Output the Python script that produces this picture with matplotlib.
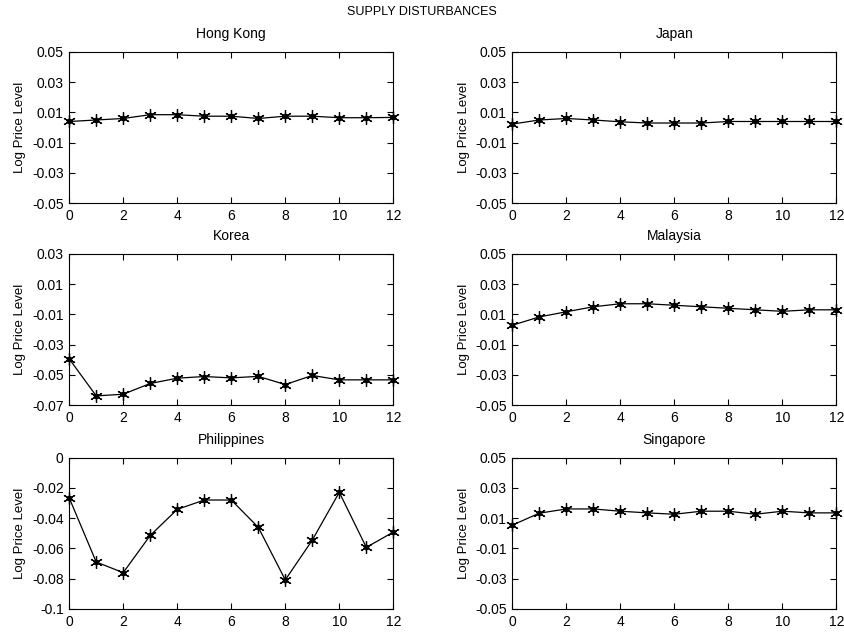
import matplotlib
matplotlib.use("Agg")
import matplotlib.pyplot as plt

plt.rcParams["font.family"] = ["Liberation Sans", "DejaVu Sans"]
plt.rcParams["font.size"] = 9.5

# horizon (periods)
horizon = list(range(13))

hong_kong = [0.004, 0.005, 0.006, 0.0085, 0.0085, 0.0075, 0.0075, 0.006, 0.0075, 0.0075, 0.0065, 0.0065, 0.0067]
japan = [0.0023, 0.005, 0.006, 0.005, 0.0038, 0.003, 0.003, 0.003, 0.004, 0.004, 0.004, 0.004, 0.004]
korea = [-0.0394, -0.0639, -0.0628, -0.0557, -0.0522, -0.0511, -0.052, -0.051, -0.0564, -0.0504, -0.0533, -0.0533, -0.0533]
malaysia = [0.0028, 0.0083, 0.0117, 0.015, 0.017, 0.017, 0.016, 0.015, 0.014, 0.013, 0.012, 0.013, 0.013]
philippines = [-0.0266, -0.069, -0.076, -0.0514, -0.0342, -0.028, -0.028, -0.046, -0.0808, -0.0545, -0.0229, -0.0593, -0.0492]
singapore = [0.0054, 0.0133, 0.0161, 0.0161, 0.0146, 0.0135, 0.0126, 0.0146, 0.0146, 0.0126, 0.0146, 0.0135, 0.0135]

std_ticks = [-0.05, -0.03, -0.01, 0.01, 0.03, 0.05]
std_labels = ["-0.05", "-0.03", "-0.01", "0.01", "0.03", "0.05"]
korea_ticks = [-0.07, -0.05, -0.03, -0.01, 0.01, 0.03]
korea_labels = ["-0.07", "-0.05", "-0.03", "-0.01", "0.01", "0.03"]
phil_ticks = [-0.1, -0.08, -0.06, -0.04, -0.02, 0]
phil_labels = ["-0.1", "-0.08", "-0.06", "-0.04", "-0.02", "0"]

panels = [
    ("Hong Kong", hong_kong, std_ticks, std_labels),
    ("Japan", japan, std_ticks, std_labels),
    ("Korea", korea, korea_ticks, korea_labels),
    ("Malaysia", malaysia, std_ticks, std_labels),
    ("Philippines", philippines, phil_ticks, phil_labels),
    ("Singapore", singapore, std_ticks, std_labels),
]

# axes rectangles in figure fractions (left, bottom, width, height)
col_left = [0.082, 0.607]
row_bottom = [0.679, 0.360, 0.038]
ax_w, ax_h = 0.384, 0.239

fig = plt.figure(figsize=(8.44, 6.33), dpi=100)
fig.text(0.5, 0.981, "SUPPLY DISTURBANCES", ha="center", va="center", fontsize=9)

for i, (name, values, ticks, labels) in enumerate(panels):
    r, c = divmod(i, 2)
    ax = fig.add_axes([col_left[c], row_bottom[r], ax_w, ax_h])
    ax.plot(horizon, values, color="black", linewidth=0.9,
            marker=(6, 2, 0), markersize=9, markeredgewidth=0.9, clip_on=False)
    ax.plot(horizon, values, linestyle="none", color="black",
            marker="o", markersize=3, clip_on=False)
    ax.set_xlim(0, 12)
    ax.set_ylim(ticks[0], ticks[-1])
    ax.set_xticks(range(0, 13, 2))
    ax.set_yticks(ticks)
    ax.set_yticklabels(labels)
    ax.tick_params(direction="in", top=True, right=True, length=4, width=0.8,
                   labelsize=10, pad=4)
    for spine in ax.spines.values():
        spine.set_linewidth(0.8)
    ax.set_title(name, fontsize=10, pad=10)
    ax.set_ylabel("Log Price Level", fontsize=9.5, labelpad=4)

fig.savefig("out.png", dpi=100)
